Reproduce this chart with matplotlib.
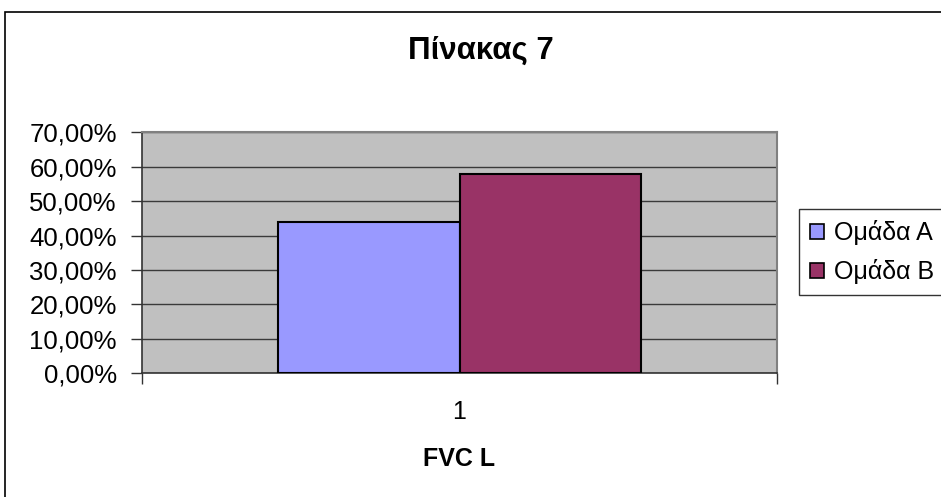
import numpy as np
import matplotlib
matplotlib.use("Agg")
import matplotlib.pyplot as plt
from matplotlib.patches import Patch, Rectangle
from matplotlib.ticker import FuncFormatter, MultipleLocator, FixedLocator

plt.rcParams['font.family'] = ['Liberation Sans', 'DejaVu Sans']

# ── Data ─────────────────────────────────────────────────────────────
title = "Πίνακας 7"
x_label = "FVC L"
categories = ["1"]
series_names = ["Ομάδα A", "Ομάδα B"]
group_a = [0.439]
group_b = [0.579]
colors = ["#9999FF", "#993366"]

W, H = 941, 497
fig = plt.figure(figsize=(W / 100, H / 100), dpi=100)

# outer chart frame (cut by the image on the right and bottom)
fig.patches.append(Rectangle((5 / W, -0.1), 1.2, 1 - 12 / H + 0.1,
                             transform=fig.transFigure, fill=False,
                             edgecolor="#000000", linewidth=1.2))

ax = fig.add_axes([141.7 / W, 1 - 373.3 / H, 635.6 / W, 241.0 / H])
ax.set_facecolor("#C0C0C0")

x = np.arange(len(categories))
bar_w = 1 / 3.5
ax.bar(x - bar_w / 2, group_a, width=bar_w, color=colors[0],
       edgecolor="black", linewidth=1.5, zorder=3)
ax.bar(x + bar_w / 2, group_b, width=bar_w, color=colors[1],
       edgecolor="black", linewidth=1.5, zorder=3)

ax.set_xlim(-0.5, 0.5)
ax.set_ylim(0, 0.70)
ax.yaxis.set_major_locator(MultipleLocator(0.10))
ax.yaxis.set_major_formatter(
    FuncFormatter(lambda v, _: f"{v * 100:.2f}%".replace(".", ",")))
ax.grid(axis="y", color="#3a3a3a", linewidth=1.0, zorder=1)

ax.set_xticks(x)
ax.set_xticklabels(categories)
ax.xaxis.set_minor_locator(FixedLocator([-0.5, 0.5]))
ax.tick_params(axis="x", which="major", length=0, pad=19, labelsize=18)
ax.tick_params(axis="x", which="minor", length=8, width=1, color="#333333")
ax.tick_params(axis="y", length=8, width=1, color="#333333", pad=10,
               labelsize=18.5)

for side in ["top", "right"]:
    ax.spines[side].set_color("#808080")
    ax.spines[side].set_linewidth(1.5)
for side in ["left", "bottom"]:
    ax.spines[side].set_color("#333333")
    ax.spines[side].set_linewidth(1.2)

ax.set_xlabel(x_label, fontsize=18, fontweight="bold", labelpad=17)

fig.text(481 / W, 1 - 51 / H, title, ha="center", va="center",
         fontsize=22.5, fontweight="bold")

handles = [Patch(facecolor=c, edgecolor="black", linewidth=1.2) for c in colors]
leg = fig.legend(handles, series_names, loc="upper left",
                 bbox_to_anchor=(799 / W, 1 - 209 / H),
                 fontsize=18, frameon=True, fancybox=False,
                 handlelength=0.55, handleheight=0.55, handletextpad=0.4,
                 labelspacing=0.55, borderpad=0.45, borderaxespad=0)
leg.get_frame().set_edgecolor("black")
leg.get_frame().set_linewidth(1.0)

fig.savefig("out.png", dpi=100)
